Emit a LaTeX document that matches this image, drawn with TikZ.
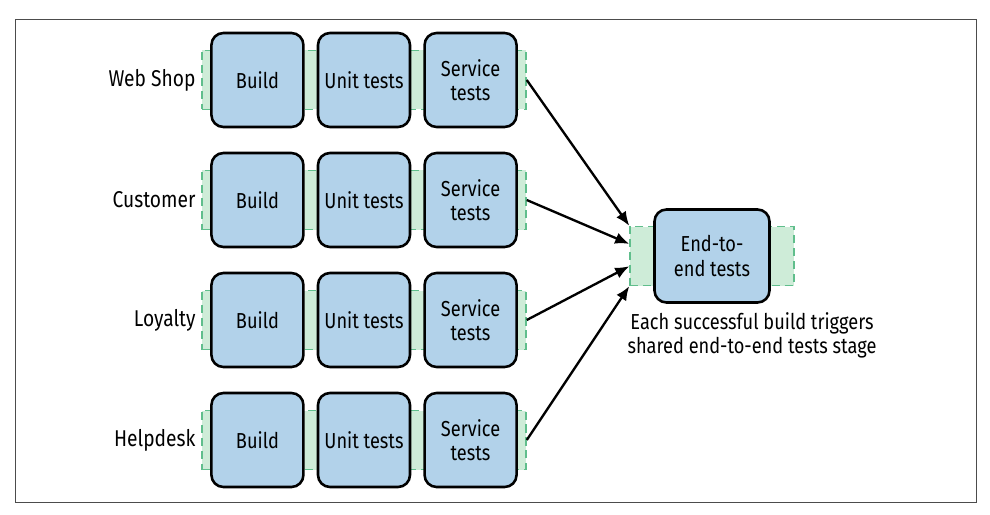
\documentclass[tikz,border=0pt]{standalone}
\usepackage{fontspec}
\setmainfont[FakeStretch=0.84]{Fira Sans}
\usepackage{tikz}
\usetikzlibrary{positioning, arrows.meta, calc}

\definecolor{boxblue}{RGB}{178,210,234}
\definecolor{bandgreen}{RGB}{206,236,216}
\definecolor{dashgreen}{RGB}{96,190,140}

\tikzset{
    stage/.style={rectangle,
        rounded corners=0.36cm,
        draw=black,
        line width=2.2pt,
        fill=boxblue,
        minimum width=2.76cm,
        minimum height=2.82cm,
        align=center,
        inner sep=2pt},
    band/.style={rectangle,
        draw=dashgreen,
        dash pattern=on 7pt off 4pt,
        line width=1.3pt,
        fill=bandgreen,
        minimum height=1.77cm},
    lane/.style={font=\fontsize{19.5}{22}\selectfont},
    trigger/.style={-{Latex[length=12pt,width=10pt]},
        line width=2pt}
}

\begin{document}
\begin{tikzpicture}[font=\fontsize{18.5}{21}\selectfont]
    \useasboundingbox (0,0) rectangle (29.7,-15.45);
    \draw[gray!60!black, line width=0.7pt] (0.45,-0.57) rectangle (29.28,-15.06);

    % Pipelines
        \node[band, minimum width=9.72cm] (band1) at (10.92,-2.4) {};
        \node[stage] (u1) at (band1.center) {Unit tests};
        \node[stage, left=0.36cm of u1] (b1) {Build};
        \node[stage, right=0.36cm of u1] (s1) {Service\\tests};
        \node[lane, left=0.05cm of band1] (l1) {Web Shop};

        \node[band, minimum width=9.72cm] (band2) at (10.92,-6.0) {};
        \node[stage] (u2) at (band2.center) {Unit tests};
        \node[stage, left=0.36cm of u2] (b2) {Build};
        \node[stage, right=0.36cm of u2] (s2) {Service\\tests};
        \node[lane, left=0.05cm of band2] (l2) {Customer};

        \node[band, minimum width=9.72cm] (band3) at (10.92,-9.6) {};
        \node[stage] (u3) at (band3.center) {Unit tests};
        \node[stage, left=0.36cm of u3] (b3) {Build};
        \node[stage, right=0.36cm of u3] (s3) {Service\\tests};
        \node[lane, left=0.05cm of band3] (l3) {Loyalty};

        \node[band, minimum width=9.72cm] (band4) at (10.92,-13.2) {};
        \node[stage] (u4) at (band4.center) {Unit tests};
        \node[stage, left=0.36cm of u4] (b4) {Build};
        \node[stage, right=0.36cm of u4] (s4) {Service\\tests};
        \node[lane, left=0.05cm of band4] (l4) {Helpdesk};

    % Shared stage
        \node[band, minimum width=4.92cm] (eband) at (21.36,-7.68) {};
        \node[stage, minimum width=3.45cm, minimum height=2.79cm] (e2e) at (eband.center) {End-to-\\end tests};
        \node[below=0.15cm of e2e, xshift=1.2cm, align=center,
              font=\fontsize{18.5}{20.5}\selectfont] (note)
            {Each successful build triggers\\shared end-to-end tests stage};

        \draw[trigger] (band1.east) -- ($(eband.north west)!0.0!(eband.south west)$);
        \draw[trigger] (band2.east) -- ($(eband.north west)!0.3!(eband.south west)$);
        \draw[trigger] (band3.east) -- ($(eband.north west)!0.67!(eband.south west)$);
        \draw[trigger] (band4.east) -- ($(eband.north west)!1.0!(eband.south west)$);
\end{tikzpicture}
\end{document}
